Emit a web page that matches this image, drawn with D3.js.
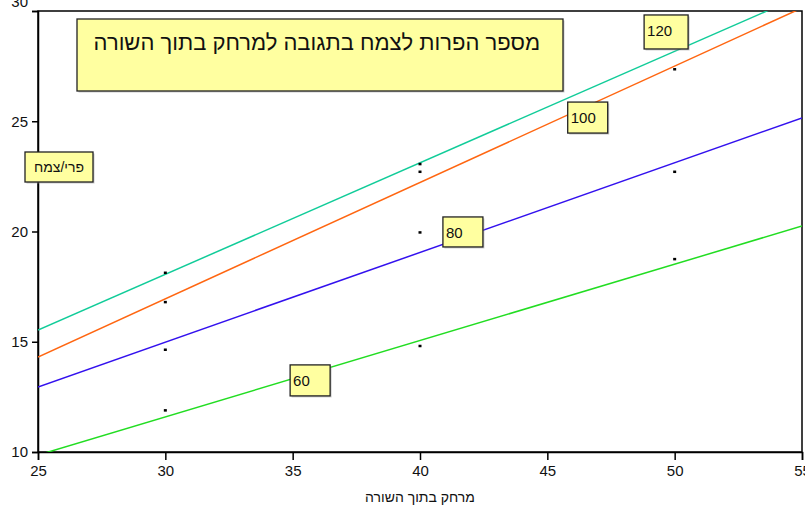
<!DOCTYPE html>
<html>
<head>
<meta charset="utf-8">
<script src="https://cdn.jsdelivr.net/npm/d3@7"></script>
<style>
body{margin:0;background:#fff;}
svg{font-family:"Liberation Sans",Arial,sans-serif;}
</style>
</head>
<body>
<div id="plot"></div>
<script>
// values

var xTicks = [25,30,35,40,45,50,55];
var yTicks = [10,15,20,25,30];

// measured points
var obsX = [30,30,30,30, 40,40,40,40, 50,50,50];
var obsY = [18.13,16.8,14.64,11.89, 23.06,22.71,19.96,14.81, 27.36,22.71,18.75];

// fitted lines, value at x=25 and x=55
var lineNames = ['60','80','100','120'];
var lineAt25 = [9.86,12.95,14.31,15.53];
var lineAt55 = [20.25,25.15,30.14,30.7];
var lineColors = ['#22dd22','#3311ee','#ff6611','#11cc99'];

var title = 'מספר הפרות לצמח בתגובה למרחק בתוך השורה';
var yTitle = 'פרי/צמח';
var xTitle = 'מרחק בתוך השורה';

var margin = {t:11,r:3,b:59,l:38};
var W = 805, H = 511;
var width = W-margin.l-margin.r,
	height = H-margin.t-margin.b;

var svg = d3.select('#plot').append('svg')
	.attr('width',W).attr('height',H);

var x = d3.scaleLinear().domain([25,55]).range([0,width]);
var y = d3.scaleLinear().domain([10,30]).range([height,0]);

var plot = svg.append('g')
	.attr('transform','translate('+margin.l+','+margin.t+')');

svg.append('defs').append('clipPath').attr('id','clip')
	.append('rect').attr('width',width).attr('height',height);

// frame
plot.append('rect')
	.attr('width',width).attr('height',height)
	.attr('fill','none').attr('stroke','#000').attr('stroke-width',1.5);

var xAxis = plot.append('g').attr('transform','translate(0,'+height+')')
	.call(d3.axisBottom(x).tickValues(xTicks).tickSize(8).tickPadding(5));
var yAxis = plot.append('g')
	.call(d3.axisLeft(y).tickValues(yTicks).tickSize(6).tickPadding(4));
[xAxis,yAxis].forEach(function(a){
	a.select('.domain').attr('stroke-width',1.5);
	a.selectAll('line').attr('stroke-width',1.5);
	a.selectAll('text').attr('font-size',15).attr('fill','#111')
		.style('font-family','"Liberation Sans",Arial,sans-serif');
});
// top label sits higher, half cut off like the original
yAxis.selectAll('.tick').filter(function(d){return d==30})
	.select('text').attr('dy','-0.3em');

// lines
var lines = plot.append('g').attr('clip-path','url(#clip)');
lineNames.forEach(function(n,i){
	lines.append('line')
		.attr('x1',x(25)).attr('y1',y(lineAt25[i]))
		.attr('x2',x(55)).attr('y2',y(lineAt55[i]))
		.attr('stroke',lineColors[i]).attr('stroke-width',1.5);
});

// points
plot.selectAll('.pt')
	.data(obsX)
	.enter()
	.append('rect').attr('class','pt')
	.attr('x',function(d){return x(d)-1.5})
	.attr('y',function(d,i){return y(obsY[i])-1.2})
	.attr('width',3).attr('height',2.5)
	.attr('fill','#000');

function box(g,x0,y0,w,h){
	g.append('rect').attr('x',x0+1.5).attr('y',y0+1.5).attr('width',w).attr('height',h)
		.attr('fill','#999').attr('opacity',0.5);
	g.append('rect').attr('x',x0).attr('y',y0).attr('width',w).attr('height',h)
		.attr('fill','#ffffa0').attr('stroke','#222').attr('stroke-width',1.3);
}

// line labels (box top-left in data units)
var labelPos = [[34.9,13.95,40,31],[40.9,20.66,40,30],[45.8,25.87,40,31],[48.8,29.82,44,34]];
lineNames.forEach(function(n,i){
	var p = labelPos[i];
	var bx = x(p[0]), by = y(p[1]);
	box(plot,bx,by,p[2],p[3]);
	plot.append('text').attr('x',bx+3).attr('y',by+21)
		.attr('font-size',15).attr('fill','#111').text(n);
});

// title box
box(svg,77,19,486,72);
svg.append('text').attr('x',540).attr('y',50)
	.attr('text-anchor','start').attr('direction','rtl')
	.attr('font-size',22).attr('fill','#111').text(title);

// y title box
box(svg,25,152,68,30);
svg.append('text').attr('x',59).attr('y',172)
	.attr('text-anchor','middle').attr('direction','rtl')
	.attr('font-size',14).attr('fill','#111').text(yTitle);

svg.append('text').attr('x',420).attr('y',502)
	.attr('text-anchor','middle').attr('direction','rtl')
	.attr('font-size',14).attr('fill','#111').text(xTitle);
</script>
</body>
</html>
